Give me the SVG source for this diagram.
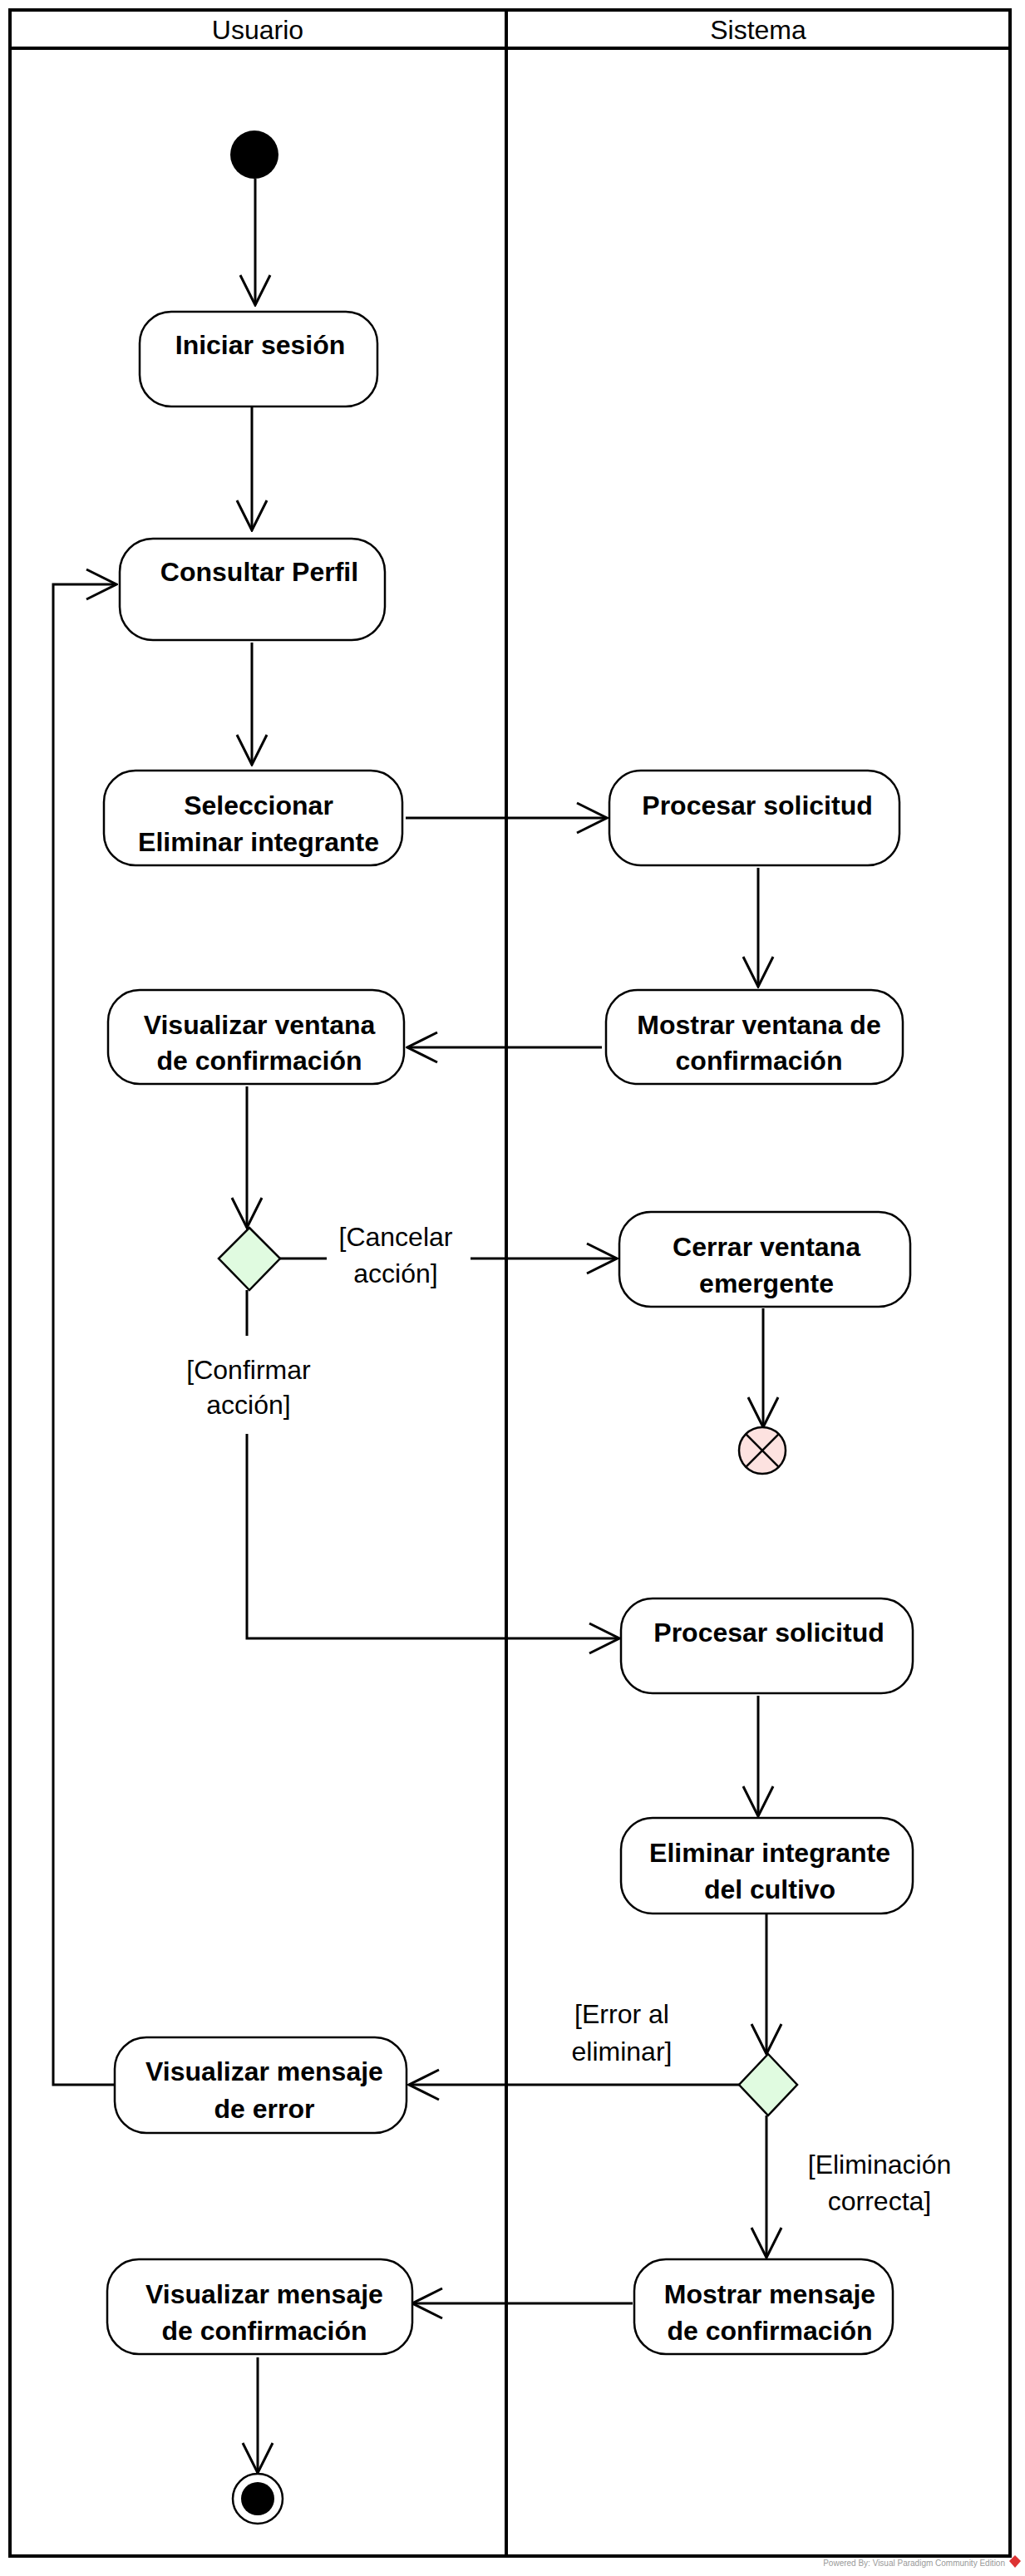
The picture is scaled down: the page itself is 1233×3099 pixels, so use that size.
<svg xmlns="http://www.w3.org/2000/svg" width="1233" height="3099" viewBox="0 0 1233 3099">
<defs>
<style>
.lane{fill:none;stroke:#000;stroke-width:4}
.act{fill:#fff;stroke:#000;stroke-width:2.5}
.t{font-family:"Liberation Sans",Arial,sans-serif;font-size:32px;font-weight:bold;text-anchor:middle;fill:#000}
.g{font-family:"Liberation Sans",Arial,sans-serif;font-size:32px;text-anchor:middle;fill:#000}
.c{fill:none;stroke:#000;stroke-width:3}
.dec{fill:#e0fbe0;stroke:#000;stroke-width:2.5}
</style>
<marker id="arr" viewBox="0 0 40 40" refX="38" refY="20" markerWidth="40" markerHeight="40" markerUnits="userSpaceOnUse" orient="auto">
<path d="M2 2 L38 20 L2 38" fill="none" stroke="#000" stroke-width="3"/>
</marker>
</defs>
<rect width="1233" height="3099" fill="#fff"/>
<g id="swimlanes">
<rect class="lane" x="12" y="12" width="1203" height="3063"/>
<line class="lane" x1="12" y1="58" x2="1215" y2="58"/>
<line class="lane" x1="609" y1="12" x2="609" y2="3075"/>
<text class="g" x="310" y="47">Usuario</text>
<text class="g" x="912" y="47">Sistema</text>
</g>
<g id="connectors">
<path class="c" d="M307 215 V367" marker-end="url(#arr)"/>
<path class="c" d="M303 489 V638" marker-end="url(#arr)"/>
<path class="c" d="M303 773 V920" marker-end="url(#arr)"/>
<path class="c" d="M488 984 H730" marker-end="url(#arr)"/>
<path class="c" d="M912 1044 V1187" marker-end="url(#arr)"/>
<path class="c" d="M724 1260 H490" marker-end="url(#arr)"/>
<path class="c" d="M297 1307 V1477" marker-end="url(#arr)"/>
<path class="c" d="M336 1514 H393 M566 1514 H742" marker-end="url(#arr)"/>
<path class="c" d="M918 1574 V1717" marker-end="url(#arr)"/>
<path class="c" d="M297 1552 V1607 M297 1725 V1971 H745" marker-end="url(#arr)"/>
<path class="c" d="M912 2040 V2185" marker-end="url(#arr)"/>
<path class="c" d="M922 2303 V2471" marker-end="url(#arr)"/>
<path class="c" d="M889 2508 H492" marker-end="url(#arr)"/>
<path class="c" d="M138 2508 H64 V703 H140" marker-end="url(#arr)"/>
<path class="c" d="M922 2545 V2716" marker-end="url(#arr)"/>
<path class="c" d="M761 2771 H496" marker-end="url(#arr)"/>
<path class="c" d="M310 2836 V2975" marker-end="url(#arr)"/>
</g>
<g id="initial">
<circle cx="306" cy="186" r="29" fill="#000"/>
</g>
<g id="iniciar-sesion">
<rect class="act" x="168" y="375" width="286" height="114" rx="38" ry="38"/>
<text class="t" x="313" y="426">Iniciar sesión</text>
</g>
<g id="consultar-perfil">
<rect class="act" x="144" y="648" width="319" height="122" rx="40" ry="40"/>
<text class="t" x="312" y="699">Consultar Perfil</text>
</g>
<g id="seleccionar-eliminar">
<rect class="act" x="125" y="927" width="359" height="114" rx="38" ry="38"/>
<text class="t" x="311" y="980">Seleccionar</text>
<text class="t" x="311" y="1024">Eliminar integrante</text>
</g>
<g id="procesar-solicitud-1">
<rect class="act" x="733" y="927" width="349" height="114" rx="38" ry="38"/>
<text class="t" x="911" y="980">Procesar solicitud</text>
</g>
<g id="mostrar-ventana">
<rect class="act" x="729" y="1191" width="357" height="113" rx="38" ry="38"/>
<text class="t" x="913" y="1244">Mostrar ventana de</text>
<text class="t" x="913" y="1287">confirmación</text>
</g>
<g id="visualizar-ventana">
<rect class="act" x="130" y="1191" width="356" height="113" rx="38" ry="38"/>
<text class="t" x="312" y="1244">Visualizar ventana</text>
<text class="t" x="312" y="1287">de confirmación</text>
</g>
<g id="decision-1">
<polygon class="dec" points="300,1477 337,1514 300,1552 263,1514"/>
<text class="g" x="476" y="1499">[Cancelar</text>
<text class="g" x="476" y="1543">acción]</text>
<text class="g" x="299" y="1659">[Confirmar</text>
<text class="g" x="299" y="1701">acción]</text>
</g>
<g id="cerrar-ventana">
<rect class="act" x="745" y="1458" width="350" height="114" rx="38" ry="38"/>
<text class="t" x="922" y="1511">Cerrar ventana</text>
<text class="t" x="922" y="1555">emergente</text>
</g>
<g id="flow-final">
<circle cx="917" cy="1745" r="28" fill="#fde2e0" stroke="#000" stroke-width="2.5"/>
<path d="M897.2 1725.2 L936.8 1764.8 M936.8 1725.2 L897.2 1764.8" stroke="#000" stroke-width="2.5"/>
</g>
<g id="procesar-solicitud-2">
<rect class="act" x="747" y="1923" width="351" height="114" rx="38" ry="38"/>
<text class="t" x="925" y="1975">Procesar solicitud</text>
</g>
<g id="eliminar-integrante">
<rect class="act" x="747" y="2187" width="351" height="115" rx="38" ry="38"/>
<text class="t" x="926" y="2240">Eliminar integrante</text>
<text class="t" x="926" y="2284">del cultivo</text>
</g>
<g id="decision-2">
<polygon class="dec" points="924,2471 959,2508 924,2545 889,2508"/>
<text class="g" x="748" y="2434">[Error al</text>
<text class="g" x="748" y="2479">eliminar]</text>
<text class="g" x="1058" y="2615">[Eliminación</text>
<text class="g" x="1058" y="2659">correcta]</text>
</g>
<g id="visualizar-error">
<rect class="act" x="138" y="2451" width="351" height="115" rx="38" ry="38"/>
<text class="t" x="318" y="2503">Visualizar mensaje</text>
<text class="t" x="318" y="2548">de error</text>
</g>
<g id="mostrar-mensaje">
<rect class="act" x="763" y="2718" width="311" height="114" rx="38" ry="38"/>
<text class="t" x="926" y="2771">Mostrar mensaje</text>
<text class="t" x="926" y="2815">de confirmación</text>
</g>
<g id="visualizar-confirmacion">
<rect class="act" x="129" y="2718" width="367" height="114" rx="38" ry="38"/>
<text class="t" x="318" y="2771">Visualizar mensaje</text>
<text class="t" x="318" y="2815">de confirmación</text>
</g>
<g id="final">
<circle cx="310" cy="3006" r="30" fill="#fff" stroke="#000" stroke-width="2.5"/>
<circle cx="310" cy="3006" r="20" fill="#000"/>
</g>
<g id="watermark">
<text x="1209" y="3087" font-family="Liberation Sans,Arial,sans-serif" font-size="10" fill="#999" text-anchor="end">Powered By: Visual Paradigm Community Edition</text>
<polygon points="1221,3074 1228,3081 1221,3089 1214,3081" fill="#d33"/>
</g>
</svg>
